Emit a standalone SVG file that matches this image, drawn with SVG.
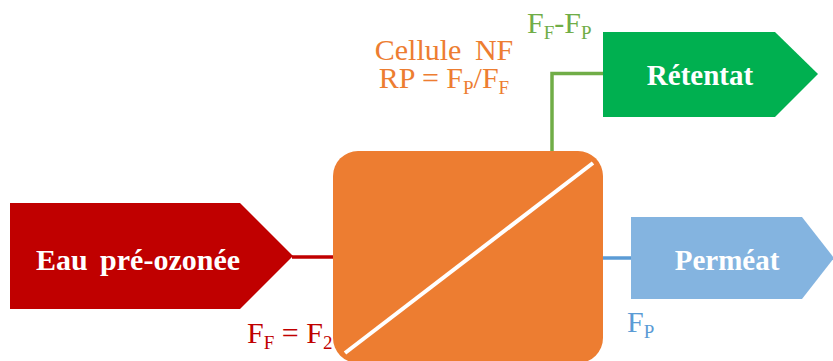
<svg xmlns="http://www.w3.org/2000/svg" width="833" height="361" viewBox="0 0 833 361">
<style>
.lbl{font-family:"Liberation Serif","Times New Roman",serif;font-size:30px;}
.box{font-family:"Liberation Serif","Times New Roman",serif;font-size:29px;font-weight:bold;fill:#FFFFFF;text-anchor:middle;}
.sub{font-size:19px;}
.conn{fill:none;stroke-width:3.5;}
</style>
<rect width="833" height="361" fill="#FFFFFF"/>
<g id="connectors">
<line class="conn" x1="292" y1="257" x2="334" y2="257" stroke="#C00000"/>
<polyline class="conn" points="552,152 552,73.5 604,73.5" stroke="#70AD47"/>
<line class="conn" x1="602" y1="258" x2="632" y2="258" stroke="#5B9BD5"/>
</g>
<g id="input">
<polygon points="10,203 240,203 293,256 240,309 10,309" fill="#C00000"/>
<text class="box" x="138" y="270" style="font-size:30px" word-spacing="5">Eau pré-ozonée</text>
</g>
<g id="cell">
<rect x="333" y="151" width="270" height="212" rx="25" ry="25" fill="#ED7D31"/>
<line x1="345" y1="353" x2="593" y2="163" stroke="#FFFFFF" stroke-width="4"/>
</g>
<g id="retentat">
<polygon points="603,32 775,32 818,74 775,117 603,117" fill="#00B050"/>
<text class="box" x="700" y="85">Rétentat</text>
</g>
<g id="permeat">
<polygon points="631,217 802,217 834,258 802,299 631,299" fill="#84B4E0"/>
<text class="box" x="727" y="270">Perméat</text>
</g>
<g id="labels">
<text class="lbl" x="444" y="60" fill="#ED7D31" text-anchor="middle" word-spacing="6">Cellule NF</text>
<text class="lbl" x="444" y="88" fill="#ED7D31" text-anchor="middle">RP = F<tspan class="sub" dy="6">P</tspan><tspan dy="-6">/F</tspan><tspan class="sub" dy="6">F</tspan></text>
<text class="lbl" x="527" y="33" fill="#70AD47">F<tspan class="sub" dy="6">F</tspan><tspan dy="-6">-F</tspan><tspan class="sub" dy="6">P</tspan></text>
<text class="lbl" x="247" y="343" fill="#C00000">F<tspan class="sub" dy="6">F</tspan><tspan dy="-6"> = F</tspan><tspan class="sub" dy="6">2</tspan></text>
<text class="lbl" x="627" y="332" fill="#5B9BD5">F<tspan class="sub" dy="6">P</tspan></text>
</g>
</svg>
